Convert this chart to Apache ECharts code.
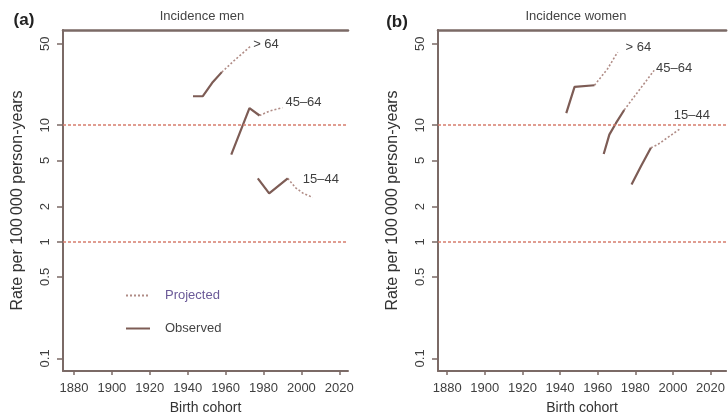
<!DOCTYPE html>
<html>
<head>
<meta charset="utf-8">
<script src="https://cdn.jsdelivr.net/npm/echarts@6/dist/echarts.min.js"></script>
<style>
html,body{margin:0;padding:0;background:#fff;}
#chart{width:728px;height:420px;}
</style>
</head>
<body>
<div id="chart"></div>
<script>
// ---- data (birth cohort year, rate per 100 000 person-years) ----
const cohortTicks = [1880, 1900, 1920, 1940, 1960, 1980, 2000, 2020];
const rateTicks = [0.1, 0.5, 1, 2, 5, 10, 50];
const refLevels = [1, 10];

const menOver64Obs = [[1942.8, 17.7], [1948, 17.7], [1953.3, 23.5], [1958, 28.5]];
const menOver64Proj = [[1958, 28.5], [1964.7, 36], [1973.5, 48]];
const men4564Obs = [[1963, 5.6], [1972.6, 14.0], [1977.9, 12.1]];
const men4564Proj = [[1977.9, 12.1], [1983.2, 13.2], [1990, 14.1]];
const men1544Obs = [[1977, 3.5], [1983, 2.6], [1992.8, 3.5]];
const men1544Proj = [[1992.8, 3.5], [1997, 2.9], [2001, 2.6], [2006, 2.4]];

const womenOver64Obs = [[1943.3, 12.7], [1947.7, 21.3], [1958.3, 22.0]];
const womenOver64Proj = [[1958.3, 22.0], [1965.3, 30.5], [1970.6, 42.3]];
const women4564Obs = [[1963.2, 5.66], [1966.2, 8.3], [1969.7, 10.4], [1974.1, 13.5]];
const women4564Proj = [[1974.1, 13.5], [1982.1, 20], [1990, 29.5]];
const women1544Obs = [[1978, 3.1], [1983, 4.44], [1988.3, 6.4]];
const women1544Proj = [[1988.3, 6.4], [1991.8, 6.8], [2004.2, 9.4]];

const groupNames = ['> 64', '45\u201364', '15\u201344'];
const panelTitles = ['Incidence men', 'Incidence women'];
const panelTags = ['(a)', '(b)'];
const yTitle = 'Rate per 100\u2009000 person-years';
const xTitle = 'Birth cohort';
const legendNames = ['Projected', 'Observed'];

// ---- styling ----
const FONT = '"Liberation Sans", Arial, Helvetica, sans-serif';
const AXIS_COL = '#7b6a66';
const OBS_COL = '#7d5c55';
const PROJ_COL = '#b08c86';
const REF_COL = '#d67d6e';
const TXT_COL = '#3f3f3f';

const lg = v => Math.log10(v);
const toLog = arr => arr.map(p => [p[0], lg(p[1])]);

function yAxisFor(gridIndex) {
  return {
    type: 'value', gridIndex: gridIndex,
    min: -1.108, max: 1.816,
    name: yTitle, nameLocation: 'middle', nameGap: 37, nameRotate: 90,
    nameTextStyle: {fontFamily: FONT, fontSize: 16, color: '#333'},
    axisLine: {show: true, lineStyle: {color: AXIS_COL, width: 2}},
    axisTick: {show: true, length: 6, inside: false, lineStyle: {color: AXIS_COL, width: 1.5},
      customValues: rateTicks.map(lg)},
    axisLabel: {show: true, rotate: 90, margin: 11, fontFamily: FONT, fontSize: 13, color: TXT_COL,
      customValues: rateTicks.map(lg),
      formatter: v => String(parseFloat(Math.pow(10, v).toPrecision(2)))},
    splitLine: {show: false}
  };
}
function xAxisFor(gridIndex, min, max) {
  return {
    type: 'value', gridIndex: gridIndex, min: min, max: max, position: 'bottom',
    name: xTitle, nameLocation: 'middle', nameGap: 30,
    nameTextStyle: {fontFamily: FONT, fontSize: 14, color: '#333'},
    axisLine: {show: true, onZero: false, lineStyle: {color: AXIS_COL, width: 2}},
    axisTick: {show: true, length: 4, lineStyle: {color: AXIS_COL, width: 1.5}, customValues: cohortTicks},
    axisLabel: {show: true, margin: 11, fontFamily: FONT, fontSize: 13, color: TXT_COL, customValues: cohortTicks,
      formatter: v => String(Math.round(v))},
    splitLine: {show: false}
  };
}
function topAxisFor(gridIndex, min, max) {
  return {
    type: 'value', gridIndex: gridIndex, min: min, max: max, position: 'top',
    axisLine: {show: true, onZero: false, lineStyle: {color: AXIS_COL, width: 2.5}},
    axisTick: {show: false}, axisLabel: {show: false}, splitLine: {show: false}
  };
}

function seriesFor(name, data, xi, yi, observed, label, offset) {
  const s = {
    name: name, type: 'line', xAxisIndex: xi, yAxisIndex: yi,
    data: toLog(data), symbol: 'none', smooth: false, silent: true,
    lineStyle: observed
      ? {color: OBS_COL, width: 2.2, type: 'solid'}
      : {color: PROJ_COL, width: 1.6, type: [2, 2]},
    itemStyle: {color: observed ? OBS_COL : PROJ_COL},
    z: observed ? 4 : 3
  };
  if (label) {
    s.endLabel = {show: true, formatter: label, offset: offset, fontFamily: FONT, fontSize: 13, color: TXT_COL, distance: 5};
  }
  return s;
}
function refLines() {
  return {
    silent: true, symbol: ['none', 'none'],
    label: {show: false},
    lineStyle: {color: REF_COL, width: 1.6, type: [3, 2]},
    data: refLevels.map(v => ({yAxis: lg(v)}))
  };
}

const aMin = 1874.2, aMax = 2024.6, bMin = 1875.1, bMax = 2028.3;

const series = [
  seriesFor(legendNames[1], menOver64Obs, 0, 0, true),
  seriesFor(legendNames[0], menOver64Proj, 0, 0, false, groupNames[0], [-3, -1]),
  seriesFor(legendNames[1], men4564Obs, 0, 0, true),
  seriesFor(legendNames[0], men4564Proj, 0, 0, false, groupNames[1], [-2, -5]),
  seriesFor(legendNames[1], men1544Obs, 0, 0, true),
  seriesFor(legendNames[0], men1544Proj, 0, 0, false, groupNames[2], [-15, -18]),
  seriesFor(legendNames[1], womenOver64Obs, 2, 1, true),
  seriesFor(legendNames[0], womenOver64Proj, 2, 1, false, groupNames[0], [3, -5]),
  seriesFor(legendNames[1], women4564Obs, 2, 1, true),
  seriesFor(legendNames[0], women4564Proj, 2, 1, false, groupNames[1], [-3, -2]),
  seriesFor(legendNames[1], women1544Obs, 2, 1, true),
  seriesFor(legendNames[0], women1544Proj, 2, 1, false, groupNames[2], [-12, -13])
];
series[0].markLine = refLines();
series[6].markLine = refLines();

const chart = echarts.init(document.getElementById('chart'), null, {renderer: 'canvas'});
chart.setOption({
  backgroundColor: '#ffffff',
  animation: false,
  grid: [
    {left: 63, top: 30, width: 285, height: 343},
    {left: 438, top: 30, width: 290, height: 343}
  ],
  xAxis: [xAxisFor(0, aMin, aMax), topAxisFor(0, aMin, aMax), xAxisFor(1, bMin, bMax), topAxisFor(1, bMin, bMax)],
  yAxis: [yAxisFor(0), yAxisFor(1)],
  legend: {
    orient: 'vertical', left: 120, top: 284, itemWidth: 24, itemHeight: 14, itemGap: 20,
    selectedMode: false,
    itemStyle: {opacity: 0, borderWidth: 0},
    textStyle: {fontFamily: FONT, fontSize: 13, padding: [0, 0, 0, 10]},
    data: [
      {name: legendNames[0], textStyle: {color: '#6b5a98'}},
      {name: legendNames[1], textStyle: {color: '#444'}}
    ]
  },
  graphic: [
    {type: 'text', x: 24, y: 20, style: {text: panelTags[0], font: 'bold 17px ' + FONT, fill: '#222', align: 'center', verticalAlign: 'middle'}},
    {type: 'text', x: 202, y: 16, style: {text: panelTitles[0], font: '13px ' + FONT, fill: '#444', align: 'center', verticalAlign: 'middle'}},
    {type: 'text', x: 397, y: 22, style: {text: panelTags[1], font: 'bold 17px ' + FONT, fill: '#222', align: 'center', verticalAlign: 'middle'}},
    {type: 'text', x: 576, y: 16, style: {text: panelTitles[1], font: '13px ' + FONT, fill: '#444', align: 'center', verticalAlign: 'middle'}}
  ],
  series: series
});
</script>
</body>
</html>
